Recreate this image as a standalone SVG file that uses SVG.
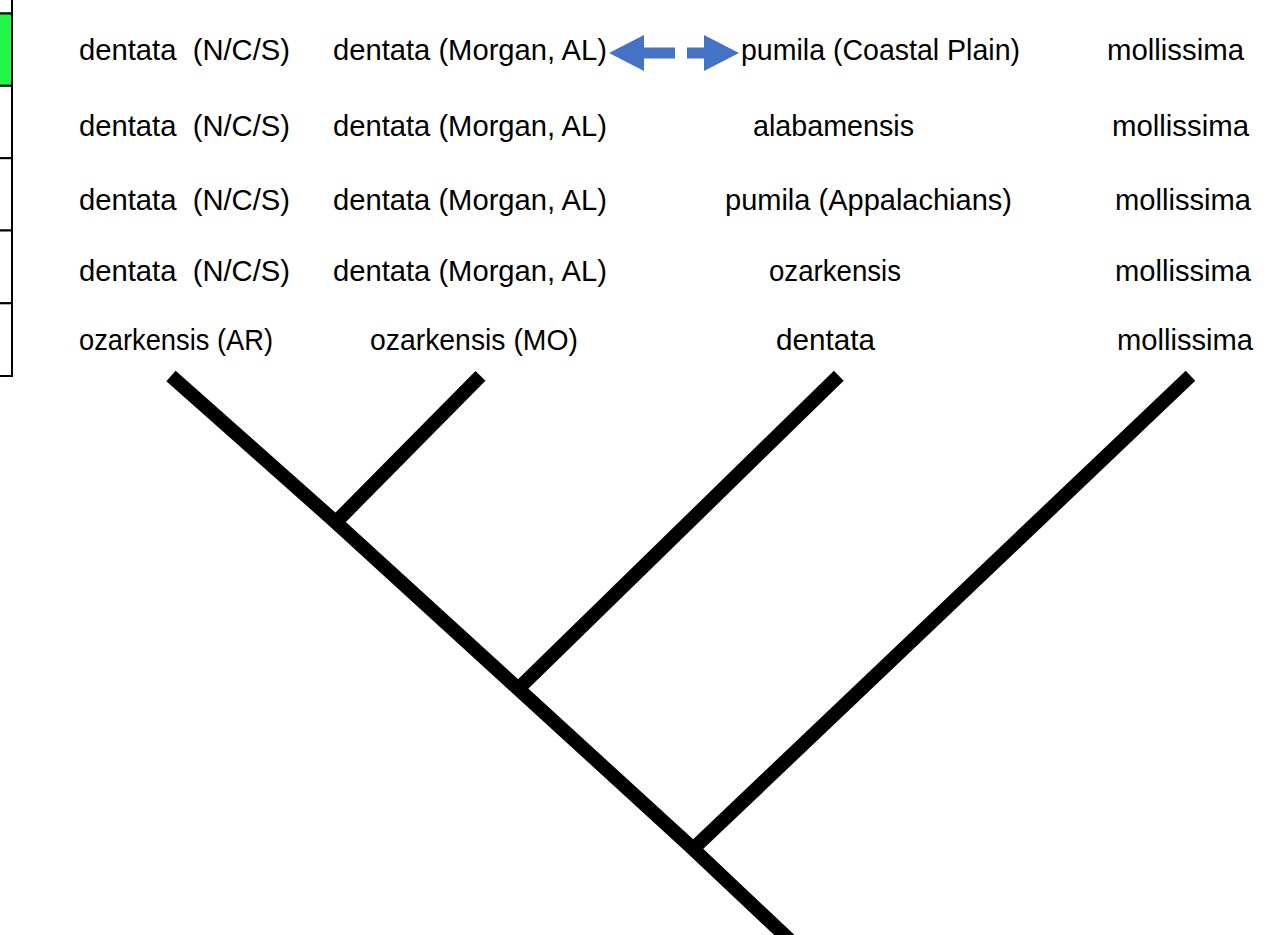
<svg xmlns="http://www.w3.org/2000/svg" width="1276" height="935" viewBox="0 0 1276 935">
<style>
.lbl{font-family:"Liberation Sans",Arial,sans-serif;font-size:29px;fill:#000;white-space:pre}
.cell{fill:#fff;stroke:#000;stroke-width:2}
.green{fill:#22F64B}
.edge{fill:none;stroke:#000;stroke-width:14;stroke-linecap:butt;stroke-linejoin:miter}
.arr{fill:#4472C4}
</style>
<rect width="1276" height="935" fill="#fff"/>
<g id="table">
<rect class="cell" x="-5" y="-60" width="17" height="73.5"/>
<rect class="cell green" x="-5" y="13.5" width="17" height="72.3"/>
<rect class="cell" x="-5" y="85.8" width="17" height="72.4"/>
<rect class="cell" x="-5" y="158.2" width="17" height="72.3"/>
<rect class="cell" x="-5" y="230.5" width="17" height="72.8"/>
<rect class="cell" x="-5" y="303.3" width="17" height="72.7"/>
</g>
<g id="connectors">
<polyline class="edge" points="171,376 331,518 514,685 689,845 796,946"/>
<line class="edge" x1="480.5" y1="375.8" x2="336" y2="522"/>
<line class="edge" x1="838.8" y1="375.8" x2="518" y2="689"/>
<line class="edge" x1="1190.5" y1="375.8" x2="693" y2="849"/>
<polygon class="arr" points="609,53 644,35 644,47.5 675,47.5 675,58.5 644,58.5 644,71"/>
<polygon class="arr" points="687,47.5 704,47.5 704,35 739,53 704,71 704,58.5 687,58.5"/>
</g>
<g id="row1">
<text id="r1c1" class="lbl" x="79" y="60" textLength="211" lengthAdjust="spacingAndGlyphs" xml:space="preserve">dentata  (N/C/S)</text>
<text id="r1c2" class="lbl" x="333" y="60" textLength="274" lengthAdjust="spacingAndGlyphs">dentata (Morgan, AL)</text>
<text id="r1c3" class="lbl" x="741" y="60" textLength="279" lengthAdjust="spacingAndGlyphs">pumila (Coastal Plain)</text>
<text id="r1c4" class="lbl" x="1107" y="60" textLength="137" lengthAdjust="spacingAndGlyphs">mollissima</text>
</g>
<g id="row2">
<text id="r2c1" class="lbl" x="79" y="136" textLength="211" lengthAdjust="spacingAndGlyphs" xml:space="preserve">dentata  (N/C/S)</text>
<text id="r2c2" class="lbl" x="333" y="136" textLength="274" lengthAdjust="spacingAndGlyphs">dentata (Morgan, AL)</text>
<text id="r2c3" class="lbl" x="753" y="136" textLength="161" lengthAdjust="spacingAndGlyphs">alabamensis</text>
<text id="r2c4" class="lbl" x="1112" y="136" textLength="137" lengthAdjust="spacingAndGlyphs">mollissima</text>
</g>
<g id="row3">
<text id="r3c1" class="lbl" x="79" y="210" textLength="211" lengthAdjust="spacingAndGlyphs" xml:space="preserve">dentata  (N/C/S)</text>
<text id="r3c2" class="lbl" x="333" y="210" textLength="274" lengthAdjust="spacingAndGlyphs">dentata (Morgan, AL)</text>
<text id="r3c3" class="lbl" x="725" y="210" textLength="287" lengthAdjust="spacingAndGlyphs">pumila (Appalachians)</text>
<text id="r3c4" class="lbl" x="1115" y="210" textLength="136" lengthAdjust="spacingAndGlyphs">mollissima</text>
</g>
<g id="row4">
<text id="r4c1" class="lbl" x="79" y="281" textLength="211" lengthAdjust="spacingAndGlyphs" xml:space="preserve">dentata  (N/C/S)</text>
<text id="r4c2" class="lbl" x="333" y="281" textLength="274" lengthAdjust="spacingAndGlyphs">dentata (Morgan, AL)</text>
<text id="r4c3" class="lbl" x="769" y="281" textLength="132" lengthAdjust="spacingAndGlyphs">ozarkensis</text>
<text id="r4c4" class="lbl" x="1115" y="281" textLength="136" lengthAdjust="spacingAndGlyphs">mollissima</text>
</g>
<g id="row5">
<text id="r5c1" class="lbl" x="79" y="350" textLength="194" lengthAdjust="spacingAndGlyphs">ozarkensis (AR)</text>
<text id="r5c2" class="lbl" x="370" y="350" textLength="208" lengthAdjust="spacingAndGlyphs">ozarkensis (MO)</text>
<text id="r5c3" class="lbl" x="776" y="350" textLength="99" lengthAdjust="spacingAndGlyphs">dentata</text>
<text id="r5c4" class="lbl" x="1117" y="350" textLength="136" lengthAdjust="spacingAndGlyphs">mollissima</text>
</g>
</svg>
